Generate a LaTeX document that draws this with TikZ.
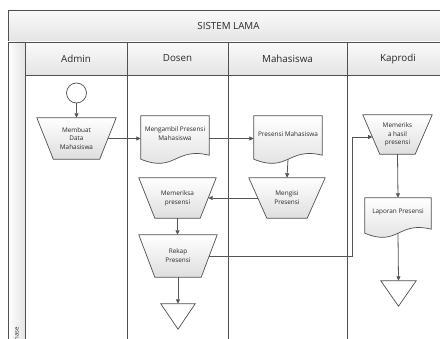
\documentclass[tikz,border=0pt]{standalone}
\usepackage{fontspec}
\setmainfont{Open Sans}
\usetikzlibrary{arrows.meta,backgrounds,calc}
\definecolor{ln}{RGB}{80,80,80}
\definecolor{cn}{RGB}{85,85,85}
\definecolor{hdtop}{RGB}{250,250,250}
\definecolor{hdbot}{RGB}{228,228,228}
\definecolor{shbot}{RGB}{222,222,222}
\definecolor{tx}{RGB}{40,40,40}
\tikzset{
 frame/.style={draw=ln, line width=0.9pt},
 hdr/.style={frame, top color=hdtop, bottom color=hdbot},
 hdtext/.style={font=\fontsize{9.8}{12}\selectfont, text=tx},
 box/.style={inner sep=0pt, align=center, font=\fontsize{6.4}{8.8}\selectfont, text=tx},
 shp/.style={draw=ln, line width=0.7pt, top color=white, bottom color=shbot},
 trishp/.style={draw=ln, line width=0.7pt, fill=white},
 conn/.style={draw=cn, line width=0.8pt, -{Triangle[length=4.5pt,width=4pt]}},
}
\newcommand\manop[2]{\draw[shp] (#1.north west) -- (#1.north east) -- ([xshift=-#2]#1.south east) -- ([xshift=#2]#1.south west) -- cycle;}
\newcommand\docshape[1]{\draw[shp] (#1.north west) -- (#1.north east) -- ([yshift=-3pt]#1.south east) .. controls ([yshift=5.5pt]#1.south) and ([yshift=-21pt]#1.south) .. ([yshift=-7pt]#1.south west) -- cycle;}
\newcommand\trishape[1]{\draw[trishp] (#1.north west) -- (#1.north east) -- (#1.south) -- cycle;}
\begin{document}
\begin{tikzpicture}[x=1pt,y=-1pt]
\useasboundingbox (0,0) rectangle (440,339);
\begin{scope}
\clip (0,0) rectangle (440,339);
% title band
\draw[hdr] (8,10) rectangle (449,42);
\node[hdtext] (title) at (228.5,26) {SISTEM LAMA};
% phase column
\draw[frame, left color=white, right color=hdbot] (8,42) rectangle (25,360);
\node[font=\fontsize{6}{7}\selectfont, text=tx, rotate=90, anchor=east, inner sep=0pt] (phase) at (16.5,327) {Phase};
% lane headers
\draw[hdr] (25,42) rectangle (127,75);
\draw[hdr] (127,42) rectangle (228,75);
\draw[hdr] (228,42) rectangle (347,75);
\draw[hdr] (347,42) rectangle (449,75);
\node[hdtext] (hadmin) at (76,58.5) {Admin};
\node[hdtext] (hdosen) at (177.5,58.5) {Dosen};
\node[hdtext] (hmhs) at (287.5,58.5) {Mahasiswa};
\node[hdtext] (hkap) at (398,58.5) {Kaprodi};
% lane bodies
\draw[frame] (25,75) rectangle (127,360);
\draw[frame] (127,75) rectangle (228,360);
\draw[frame] (228,75) rectangle (347,360);
\draw[frame] (347,75) rectangle (449,360);
\end{scope}
% nodes
\node[circle, draw=ln, line width=0.7pt, minimum size=20pt, inner sep=0pt, fill=white] (start) at (76.5,93) {};
\node[box, minimum width=79pt, minimum height=41pt] (membuat) at (76.5,138.5) {Membuat\\Data\\Mahasiswa};
\node[box, minimum width=68pt, minimum height=36pt] (mengambil) at (175,134) {Mengambil Presensi\\Mahasiswa};
\node[box, minimum width=68pt, minimum height=36pt] (presensi) at (288,134) {Presensi Mahasiswa};
\node[box, minimum width=76pt, minimum height=40pt] (mengisi) at (287,198) {Mengisi\\Presensi};
\node[box, minimum width=77pt, minimum height=40pt] (memeriksa) at (177.5,198) {Memeriksa\\presensi};
\node[box, minimum width=78pt, minimum height=42pt] (rekap) at (178,256) {Rekap\\Presensi};
\node[box, minimum width=34pt, minimum height=25pt] (tri1) at (178,316.5) {};
\node[box, minimum width=69pt, minimum height=39pt] (memeriks) at (397.5,134.5) {Memeriks\\a hasil\\presensi};
\node[box, minimum width=66pt, minimum height=28pt] (laporan) at (398,212) {Laporan Presensi};
\node[box, minimum width=35pt, minimum height=25pt] (tri2) at (398.5,293.5) {};
\begin{pgfonlayer}{background}
\manop{membuat}{16.5pt}
\docshape{mengambil}
\docshape{presensi}
\manop{mengisi}{18pt}
\manop{memeriksa}{16pt}
\manop{rekap}{16pt}
\trishape{tri1}
\manop{memeriks}{17pt}
\docshape{laporan}
\trishape{tri2}
\end{pgfonlayer}
% connectors
\coordinate (bend) at (352,256);
\coordinate (memin) at (372.5,137);
\draw[conn] (start.south) -- (membuat.north);
\draw[conn] ([xshift=-8pt]membuat.east) -- (mengambil.west |- membuat.east);
\draw[conn] (mengambil.east |- membuat.east) -- (presensi.west |- membuat.east);
\draw[conn] ([yshift=-7pt]presensi.south) -- (mengisi.north);
\draw[conn] ([xshift=9pt]mengisi.west) -- ([xshift=-8pt]memeriksa.east);
\draw[conn] (memeriksa.south) -- (memeriksa.south |- rekap.north);
\draw[conn] (rekap.south) -- (tri1.north);
\draw[conn] ([xshift=-8pt]rekap.east) -- (bend) |- (memin);
\draw[conn] (memeriks.south) -- (laporan.north);
\draw[conn] ([yshift=-7pt]laporan.south) -- (tri2.north);
\end{tikzpicture}
\end{document}
